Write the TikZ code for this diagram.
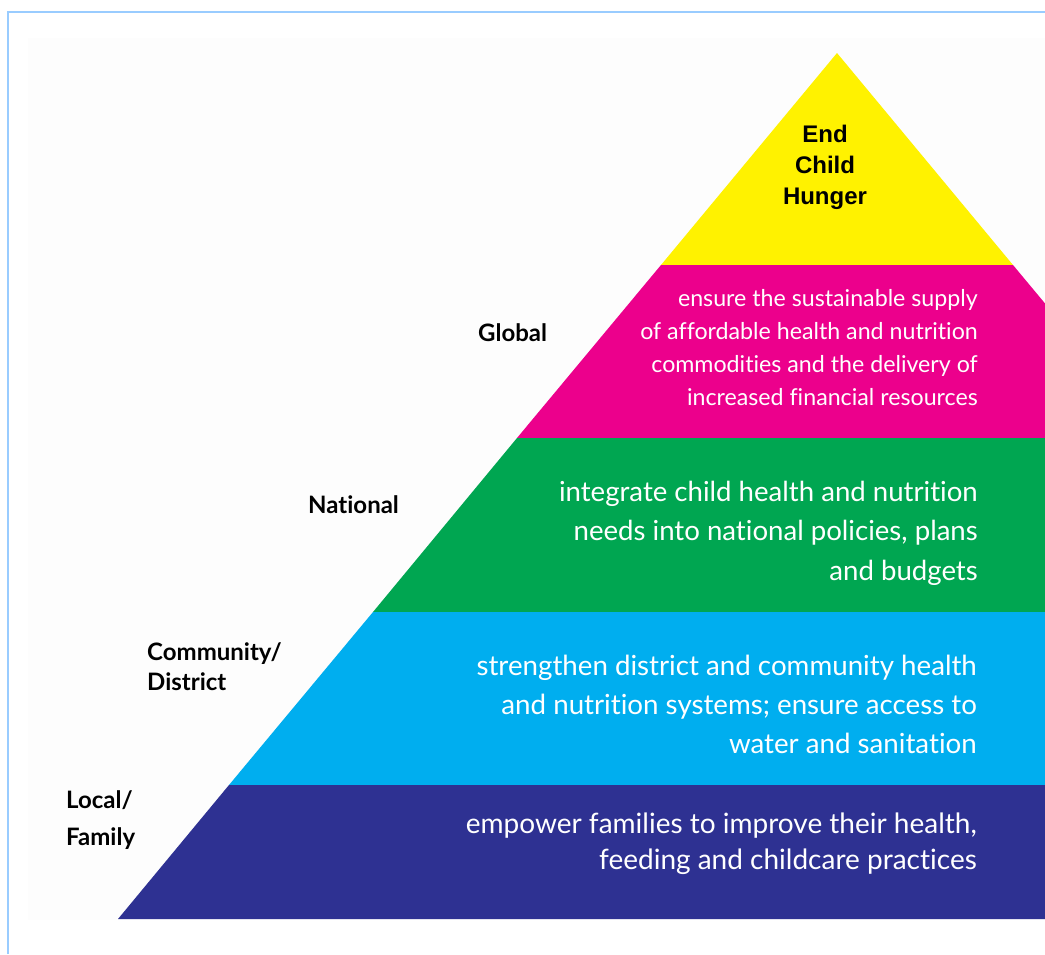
\documentclass[tikz,border=0pt]{standalone}
\usepackage{fontspec}
\setmainfont{Lato}[Ligatures=NoCommon]
\newfontfamily\goalfont{Liberation Sans}
\definecolor{pyYellow}{HTML}{FFF200}
\definecolor{pyMagenta}{HTML}{EC008C}
\definecolor{pyGreen}{HTML}{00A651}
\definecolor{pyCyan}{HTML}{00AEEF}
\definecolor{pyNavy}{HTML}{2E3192}
\definecolor{frameBlue}{HTML}{99CCFF}
\definecolor{bgGray}{HTML}{FDFDFD}
\begin{document}
\begin{tikzpicture}[x=1pt,y=-1pt,
  bandtext/.style={text=white, align=right, anchor=east, inner sep=0pt},
  levellabel/.style={text=black, font=\bfseries\fontsize{24}{30}\selectfont, align=left, anchor=west, inner sep=0pt}]
\useasboundingbox (0,0) rectangle (1045,954);
\clip (0,0) rectangle (1045,954);
\fill[white] (0,0) rectangle (1045,954);
\fill[bgGray] (28,38) rectangle (1045,920);
\draw[frameBlue, line width=1.2pt] (8,954) -- (8,12) -- (1045,12);
% pyramid bands
\fill[pyYellow] (837,53) -- (661,265) -- (1013,265) -- cycle;
\fill[pyMagenta] (661,265) -- (517,438) -- (1157,438) -- (1013,265) -- cycle;
\fill[pyGreen] (517,438) -- (373,612) -- (1301,612) -- (1157,438) -- cycle;
\fill[pyCyan] (373,612) -- (229,785) -- (1445,785) -- (1301,612) -- cycle;
\fill[pyNavy] (229,785) -- (118,919) -- (1556,919) -- (1445,785) -- cycle;
% texts
\node[font=\goalfont\bfseries\fontsize{24}{31}\selectfont, align=center, inner sep=0pt] (goal) at (825,167) {End\\Child\\Hunger};
\node[bandtext, font=\fontsize{23.2}{33}\selectfont] (tglobal) at (978,348) {ensure the sustainable supply\\of affordable health and nutrition\\commodities and the delivery of\\increased financial resources};
\node[bandtext, font=\fontsize{27.6}{39.5}\selectfont] (tnational) at (978,533) {integrate child health and nutrition\\needs into national policies, plans\\and budgets};
\node[bandtext, font=\fontsize{27.7}{39}\selectfont] (tcommunity) at (977,704) {strengthen district and community health\\and nutrition systems; ensure access to\\water and sanitation};
\node[bandtext, font=\fontsize{28}{36}\selectfont] (tlocal) at (977,844) {empower families to improve their health,\\feeding and childcare practices};
% level labels
\node[levellabel] (lglobal) at (478,333) {Global};
\node[levellabel] (lnational) at (308,505) {National};
\node[levellabel, font=\bfseries\fontsize{24}{30}\selectfont] (lcommunity) at (147,667) {Community/\\District};
\node[levellabel, font=\bfseries\fontsize{24}{37}\selectfont] (llocal) at (66,820) {Local/\\Family};
\end{tikzpicture}
\end{document}
